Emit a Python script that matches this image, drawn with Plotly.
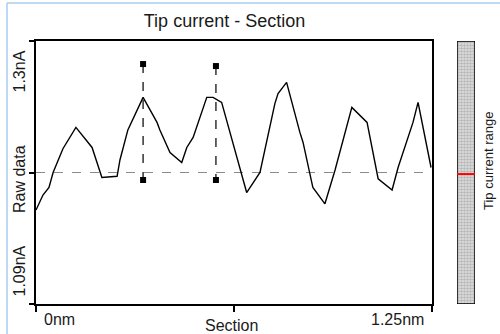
import plotly.graph_objects as go

# tip current along the section (nm, nA)
section_nm = [0.0, 0.022, 0.041, 0.054, 0.085, 0.126, 0.177, 0.192, 0.208, 0.256,
              0.265, 0.290, 0.338, 0.382, 0.391, 0.423, 0.460, 0.476, 0.496, 0.539,
              0.559, 0.586, 0.618, 0.665, 0.707, 0.754, 0.764, 0.791, 0.833, 0.843,
              0.874, 0.912, 0.944, 0.997, 1.045, 1.080, 1.124, 1.143, 1.190, 1.206,
              1.247]
current_nA = [1.165, 1.177, 1.183, 1.195, 1.214, 1.231, 1.215, 1.203, 1.191, 1.192,
              1.205, 1.229, 1.255, 1.235, 1.229, 1.211, 1.203, 1.215, 1.223, 1.255,
              1.255, 1.251, 1.221, 1.179, 1.195, 1.250, 1.258, 1.267, 1.227, 1.219,
              1.183, 1.170, 1.197, 1.247, 1.235, 1.190, 1.181, 1.199, 1.235, 1.251,
              1.199]

# cursors
cursor_x = [0.338, 0.568]
cursor_top = [1.2816, 1.280]
cursor_bottom = [1.189, 1.189]

mean_level = 1.195
y_min, y_max = 1.09, 1.30
x_min, x_max = 0.0, 1.25
range_level = 0.494

FONT = "Liberation Sans, Arial, sans-serif"

fig = go.Figure()

fig.add_trace(go.Scatter(
    x=[x_min, x_max], y=[mean_level, mean_level], mode="lines",
    line=dict(color="#8a8a8a", width=1.2, dash="dash"), hoverinfo="skip"
))

fig.add_trace(go.Scatter(
    x=section_nm, y=current_nA, mode="lines",
    line=dict(color="black", width=1.4)
))

for cx, top, bot in zip(cursor_x, cursor_top, cursor_bottom):
    fig.add_trace(go.Scatter(
        x=[cx, cx], y=[top, bot], mode="lines+markers",
        line=dict(color="black", width=1.2, dash="dash"),
        marker=dict(symbol="square", size=6, color="black")
    ))

# tip current range bar
fig.add_trace(go.Bar(
    x=[0], y=[1], base=0, width=1, xaxis="x2", yaxis="y2",
    marker=dict(color="#d0d0d0", line=dict(color="black", width=1.5),
                pattern=dict(shape=".", size=3, solidity=0.6,
                             fgcolor="#8a8a8a", bgcolor="#e4e4e4"))
))
fig.add_trace(go.Scatter(
    x=[-0.5, 0.5], y=[range_level, range_level], mode="lines",
    xaxis="x2", yaxis="y2", line=dict(color="red", width=2)
))

pw, ph = 454, 263


def px(x):
    return (x - 36) / pw


def py(y):
    return (304 - y) / ph


notes = [
    ("1.3nA", 18.5, 72, -90, 16),
    ("1.09nA", 19, 271.5, -90, 16),
    ("Raw data", 19, 179, -90, 16),
    ("0nm", 59.5, 319, 0, 16),
    ("1.25nm", 397, 319, 0, 16),
    ("Section", 231, 325, 0, 16),
    ("Tip current range", 488, 161, -90, 13),
]
for text, x, y, ang, size in notes:
    fig.add_annotation(
        text=text, x=px(x), y=py(y), xref="paper", yref="paper",
        showarrow=False, textangle=ang, xanchor="center", yanchor="middle",
        font=dict(family=FONT, size=size, color="#1a1a1a")
    )

# window frame
fig.add_shape(type="line", xref="paper", yref="paper",
              x0=px(7), x1=px(7), y0=py(334), y1=py(3),
              line=dict(color="#a9cdf0", width=1.5))
fig.add_shape(type="line", xref="paper", yref="paper",
              x0=px(7), x1=px(500), y0=py(3), y1=py(3),
              line=dict(color="#a9cdf0", width=1.5))

fig.update_layout(
    width=500, height=334,
    margin=dict(l=36, r=10, t=41, b=30),
    paper_bgcolor="white", plot_bgcolor="white",
    showlegend=False,
    title=dict(text="Tip current - Section", x=224.5 / 500, y=1 - 21 / 334,
               xanchor="center", yanchor="middle",
               font=dict(family=FONT, size=18, color="#1a1a1a")),
    xaxis=dict(domain=[0, 396 / pw], range=[x_min, x_max],
               tickvals=[x_min, (x_min + x_max) / 2, x_max], ticks="outside",
               ticklen=6, tickwidth=1.5, tickcolor="black", showticklabels=False,
               showline=True, linecolor="black", linewidth=2, mirror=True,
               showgrid=False, zeroline=False),
    yaxis=dict(range=[y_min, y_max],
               tickvals=[y_min, (y_min + y_max) / 2, y_max], ticks="outside",
               ticklen=5, tickwidth=1.5, tickcolor="black", showticklabels=False,
               showline=True, linecolor="black", linewidth=2, mirror=True,
               showgrid=False, zeroline=False),
    xaxis2=dict(domain=[px(457), px(475)], range=[-0.5, 0.5], anchor="y2",
                visible=False),
    yaxis2=dict(range=[0, 1], anchor="x2", visible=False),
)

fig.write_html("out.html", config={"displayModeBar": False},
               post_script="document.body.style.margin='0';")
